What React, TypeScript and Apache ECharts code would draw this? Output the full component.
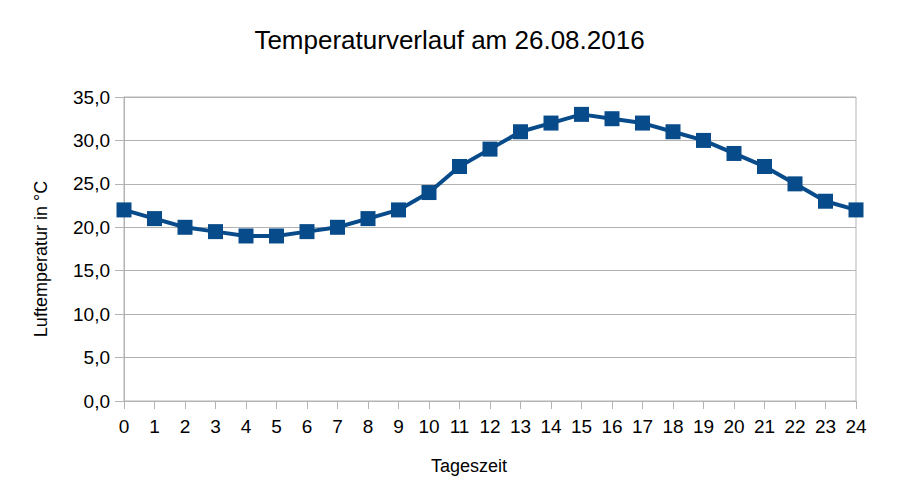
import React, { useEffect, useRef } from "react";
import * as echarts from "echarts";

const hours = [0, 1, 2, 3, 4, 5, 6, 7, 8, 9, 10, 11, 12, 13, 14, 15, 16, 17, 18, 19, 20, 21, 22, 23, 24];
const temps = [22, 21, 20, 19.5, 19, 19, 19.5, 20, 21, 22, 24, 27, 29, 31, 32, 33, 32.5, 32, 31, 30, 28.5, 27, 25, 23, 22];
const titleText = "Temperaturverlauf am 26.08.2016";
const yName = "Luftemperatur in °C";
const xName = "Tageszeit";

const FONT = "Liberation Sans, Arial, sans-serif";

export default function App() {
  const ref = useRef<HTMLDivElement>(null);
  useEffect(() => {
    if (!ref.current) return;
    const chart = echarts.init(ref.current, null, { renderer: "svg" });
    chart.setOption({
      animation: false,
      backgroundColor: "#ffffff",
      title: {
        text: titleText,
        left: "center",
        top: 22,
        textStyle: { fontFamily: FONT, fontSize: 26, fontWeight: "normal", color: "#000" },
      },
      grid: {
        left: 124,
        right: 43,
        top: 97,
        bottom: 98,
        show: true,
        borderColor: "#b3b3b3",
        borderWidth: 1,
      },
      xAxis: {
        type: "value",
        min: 0,
        max: 24,
        interval: 1,
        name: xName,
        nameLocation: "middle",
        nameGap: 56,
        nameTextStyle: { fontFamily: FONT, fontSize: 18, color: "#000", padding: [0, 42, 0, 0] },
        axisLine: { show: true, lineStyle: { color: "#b3b3b3", width: 1 } },
        axisTick: { show: true, length: 8, lineStyle: { color: "#b3b3b3" } },
        splitLine: { show: false },
        axisLabel: { fontFamily: FONT, fontSize: 19, color: "#000", margin: 16 },
      },
      yAxis: {
        type: "value",
        min: 0,
        max: 35,
        interval: 5,
        name: yName,
        nameLocation: "middle",
        nameGap: 74,
        nameRotate: 90,
        nameTextStyle: { fontFamily: FONT, fontSize: 18, color: "#000", padding: [0, 20, 0, 0] },
        axisLine: { show: true, lineStyle: { color: "#b3b3b3", width: 1 } },
        axisTick: { show: true, length: 9, lineStyle: { color: "#b3b3b3" } },
        splitLine: { show: true, lineStyle: { color: "#b3b3b3", width: 1 } },
        axisLabel: {
          fontFamily: FONT,
          fontSize: 19,
          color: "#000",
          margin: 14,
          formatter: (v: number) => v.toFixed(1).replace(".", ","),
        },
      },
      series: [
        {
          type: "line",
          data: hours.map((h, i) => [h, temps[i]]),
          symbol: "rect",
          symbolSize: 15,
          lineStyle: { color: "#084b8a", width: 4 },
          itemStyle: { color: "#084b8a" },
        },
      ],
    });
    return () => chart.dispose();
  }, []);
  return (
    <div
      ref={ref}
      style={{ position: "fixed", left: 0, top: 0, width: 899, height: 499 }}
    />
  );
}
